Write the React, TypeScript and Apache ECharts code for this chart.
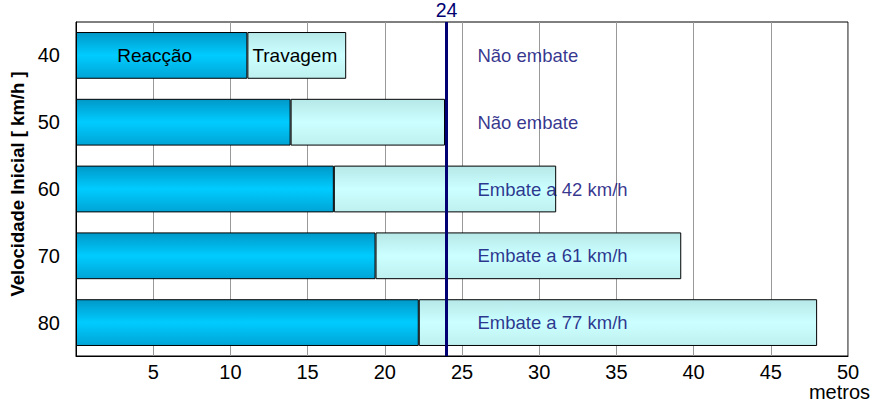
import React, { useEffect, useRef } from "react";
import * as echarts from "echarts";

const categories = ["40", "50", "60", "70", "80"];
const reaction = [11.1, 13.9, 16.7, 19.4, 22.2];
const braking = [6.4, 10.0, 14.4, 19.8, 25.8];
const annotationX = [26, 26, 26, 26, 26];
const annotations = ["Não embate", "Não embate", "Embate a 42 km/h", "Embate a 61 km/h", "Embate a 77 km/h"];
const limit = 24;
const xUnit = "metros";

const FONT = "Arial, 'Liberation Sans', sans-serif";
const NAVY = "#000072";

export default function App() {
  const ref = useRef<HTMLDivElement>(null);
  useEffect(() => {
    const chart = echarts.init(ref.current!, null, { renderer: "svg" });
    chart.setOption({
      animation: false,
      backgroundColor: "#fff",
      textStyle: { fontFamily: FONT },
      grid: {
        left: 76,
        top: 22,
        right: 30,
        bottom: 48,
        containLabel: false,
        outerBoundsMode: "none",
        show: true,
        borderColor: "#000",
        borderWidth: 1,
        backgroundColor: "transparent",
      },
      graphic: [
        {
          type: "text",
          right: 8,
          top: 381,
          style: {
            text: xUnit,
            fill: "#000",
            fontSize: 20,
            lineHeight: 22,
            fontFamily: FONT,
          },
        },
      ],
      xAxis: {
        type: "value",
        min: 0,
        max: 50,
        interval: 5,
        axisLine: { show: true, lineStyle: { color: "#000" } },
        axisTick: { show: false },
        axisLabel: {
          fontSize: 20,
          color: "#000",
          margin: 6,
          fontFamily: FONT,
          formatter: (v: number) => (v === 0 ? "" : String(v)),
        },
        splitLine: { show: true, lineStyle: { color: "#999", width: 1 } },
      },
      yAxis: {
        type: "category",
        data: categories,
        inverse: true,
        name: "Velocidade Inicial [ km/h ]",
        nameLocation: "middle",
        nameGap: 48,
        nameTextStyle: {
          fontSize: 18.5,
          fontWeight: "bold",
          color: "#000",
          fontFamily: FONT,
          padding: [0, 0, 0, 10],
        },
        axisLine: { show: true, lineStyle: { color: "#000" } },
        axisTick: { show: false },
        axisLabel: { fontSize: 20, color: "#000", margin: 16, fontFamily: FONT },
      },
      series: [
        {
          name: "Reacção",
          type: "bar",
          stack: "total",
          barWidth: "70%",
          data: reaction.map((v, i) => ({
            value: v,
            label: {
              show: i === 0,
              position: "inside",
              formatter: "Reacção",
              color: "#000",
              fontSize: 19,
              fontFamily: FONT,
              offset: [-7, 0],
            },
          })),
          itemStyle: {
            borderColor: "#000",
            borderWidth: 1,
            color: new echarts.graphic.LinearGradient(0, 0, 0, 1, [
              { offset: 0, color: "#0098c8" },
              { offset: 0.5, color: "#00ccff" },
              { offset: 1, color: "#00a4d6" },
            ]),
          },
        },
        {
          name: "Travagem",
          type: "bar",
          stack: "total",
          data: braking.map((v, i) => ({
            value: v,
            label: {
              show: i === 0,
              position: "inside",
              formatter: "Travagem",
              color: "#000",
              fontSize: 19,
              fontFamily: FONT,
              offset: [-2, 0],
            },
          })),
          itemStyle: {
            borderColor: "#000",
            borderWidth: 1,
            color: new echarts.graphic.LinearGradient(0, 0, 0, 1, [
              { offset: 0, color: "#b6e8e8" },
              { offset: 0.5, color: "#ccffff" },
              { offset: 1, color: "#bff0f0" },
            ]),
          },
          markLine: {
            silent: true,
            symbol: ["none", "none"],
            lineStyle: { color: NAVY, width: 3, type: "solid" },
            label: {
              show: true,
              position: "start",
              formatter: String(limit),
              color: NAVY,
              fontSize: 19.5,
              fontFamily: FONT,
              distance: 2,
            },
            data: [{ xAxis: limit }],
          },
        },
        {
          name: "annotations",
          type: "scatter",
          symbolSize: 0,
          data: annotationX.map((x, i) => [x, categories[i]]),
          label: {
            show: true,
            position: "right",
            distance: 0,
            color: NAVY,
            fontSize: 18.5,
            fontFamily: FONT,
            formatter: (p: any) => annotations[p.dataIndex],
          },
          z: 10,
        },
      ],
    });
    return () => chart.dispose();
  }, []);
  return (
    <div
      ref={ref}
      style={{ position: "fixed", left: 0, top: 0, width: 878, height: 404 }}
    />
  );
}
